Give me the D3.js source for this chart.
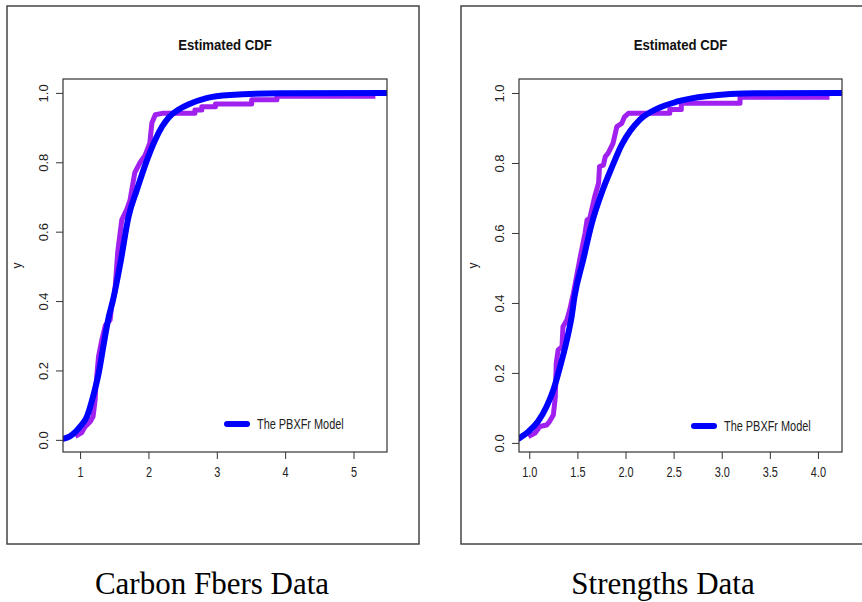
<!DOCTYPE html>
<html>
<head>
<meta charset="utf-8">
<script src="https://cdn.jsdelivr.net/npm/d3@7"></script>
<style>
  body { margin: 0; background: #fff; }
  svg { display: block; }
</style>
</head>
<body>
<div id="chart"></div>
<script>
// Data

// Carbon fibers: empirical CDF (purple) as [x, F(x)] corners
const carbonEcdf = [
  [0.93, 0.01], [1.02, 0.02], [1.07, 0.037], [1.15, 0.053], [1.19, 0.067],
  [1.22, 0.115], [1.23, 0.154], [1.27, 0.24], [1.32, 0.29], [1.37, 0.33],
  [1.44, 0.346], [1.46, 0.384], [1.51, 0.43], [1.55, 0.54], [1.61, 0.634],
  [1.68, 0.663], [1.73, 0.69], [1.80, 0.77], [1.88, 0.80], [1.95, 0.82],
  [2.02, 0.855], [2.05, 0.913], [2.10, 0.937], [2.20, 0.941], [2.68, 0.941],
  [2.68, 0.951], [2.78, 0.951], [2.78, 0.96], [2.98, 0.96], [2.98, 0.968],
  [3.51, 0.968], [3.51, 0.98], [3.88, 0.98], [3.88, 0.99], [5.32, 0.99]
];
// Carbon fibers: fitted PBXFr CDF (blue)
const carbonModel = [
  [0.75, 0.003], [0.85, 0.01], [1.0, 0.038], [1.10, 0.067], [1.19, 0.125],
  [1.27, 0.19], [1.34, 0.269], [1.41, 0.346], [1.49, 0.41], [1.59, 0.51],
  [1.71, 0.644], [1.83, 0.72], [1.98, 0.807], [2.10, 0.865], [2.20, 0.903],
  [2.30, 0.93], [2.45, 0.953], [2.60, 0.968], [2.85, 0.985], [3.20, 0.994],
  [3.93, 0.999], [5.49, 1.0]
];

// Strengths: empirical CDF (purple)
const strengthEcdf = [
  [0.99, 0.018], [1.06, 0.028], [1.11, 0.047], [1.18, 0.051], [1.21, 0.061],
  [1.25, 0.08], [1.27, 0.13], [1.28, 0.228], [1.30, 0.266], [1.34, 0.275],
  [1.35, 0.332], [1.39, 0.351], [1.42, 0.38], [1.46, 0.43], [1.53, 0.532],
  [1.58, 0.60], [1.60, 0.637], [1.63, 0.643], [1.68, 0.704], [1.72, 0.742],
  [1.73, 0.79], [1.77, 0.794], [1.79, 0.818], [1.82, 0.828], [1.87, 0.856],
  [1.91, 0.904], [1.96, 0.913], [1.99, 0.932], [2.03, 0.942], [2.46, 0.942],
  [2.46, 0.953], [2.58, 0.953], [2.58, 0.971], [3.19, 0.971], [3.19, 0.988],
  [4.12, 0.988]
];
// Strengths: fitted PBXFr CDF (blue)
const strengthModel = [
  [0.893, 0.013], [0.99, 0.032], [1.09, 0.061], [1.18, 0.104], [1.25, 0.151],
  [1.32, 0.218], [1.39, 0.294], [1.44, 0.361], [1.47, 0.418], [1.56, 0.523],
  [1.65, 0.628], [1.75, 0.713], [1.86, 0.789], [1.96, 0.852], [2.05, 0.892],
  [2.15, 0.924], [2.32, 0.954], [2.53, 0.975], [2.84, 0.991], [3.36, 0.999],
  [4.25, 1.0]
];

const yTicks = [0, 0.2, 0.4, 0.6, 0.8, 1.0];
const carbonXTicks = [1, 2, 3, 4, 5];
const strengthXTicks = [1.0, 1.5, 2.0, 2.5, 3.0, 3.5, 4.0];

const plotTitle = "Estimated CDF";
const legendLabel = "The PBXFr Model";
const captions = ["Carbon Fbers Data", "Strengths Data"];

// Layout
const width = 862;
const height = 602;

const panels = [
  {
    id: "carbon",
    frame: { x: 7, y: 6, w: 412, h: 538 },
    box: { left: 63, top: 79, right: 387, bottom: 452 },
    xDomain: [0.75, 5.49],
    yDomain: [-0.035, 1.04],
    xTicks: carbonXTicks,
    xFormat: d3.format("d"),
    ecdf: carbonEcdf,
    model: carbonModel,
    caption: captions[0],
    captionX: 212,
    yLabelX: 17,
    legend: { x: 227, y: 424 },
  },
  {
    id: "strength",
    frame: { x: 461, y: 6, w: 410, h: 538 },
    box: { left: 519, top: 79, right: 842, bottom: 452 },
    xDomain: [0.893, 4.25],
    yDomain: [-0.026, 1.04],
    xTicks: strengthXTicks,
    xFormat: d3.format(".1f"),
    ecdf: strengthEcdf,
    model: strengthModel,
    caption: captions[1],
    captionX: 663,
    yLabelX: 473,
    legend: { x: 694, y: 426 },
  },
];

const sans = "'Liberation Sans', Arial, sans-serif";
const serif = "'Liberation Serif', 'Times New Roman', serif";

const svg = d3
  .select("#chart")
  .append("svg")
  .attr("width", width)
  .attr("height", height)
  .attr("viewBox", `0 0 ${width} ${height}`);

panels.forEach((p) => {
  const b = p.box;
  const g = svg.append("g").attr("id", p.id);

  // outer frame around each figure
  g.append("rect")
    .attr("x", p.frame.x)
    .attr("y", p.frame.y)
    .attr("width", p.frame.w)
    .attr("height", p.frame.h)
    .attr("fill", "none")
    .attr("stroke", "#444")
    .attr("stroke-width", 1.5);

  // Scales
  const xScale = d3.scaleLinear().domain(p.xDomain).range([b.left, b.right]);
  const yScale = d3.scaleLinear().domain(p.yDomain).range([b.bottom, b.top]);

  // clip to plot region
  g.append("clipPath")
    .attr("id", `clip-${p.id}`)
    .append("rect")
    .attr("x", b.left)
    .attr("y", b.top)
    .attr("width", b.right - b.left)
    .attr("height", b.bottom - b.top);

  const line = d3
    .line()
    .x((d) => xScale(d[0]))
    .y((d) => yScale(d[1]));

  const lines = g.append("g").attr("clip-path", `url(#clip-${p.id})`);

  lines
    .append("path")
    .datum(p.ecdf)
    .attr("d", line)
    .attr("fill", "none")
    .attr("stroke", "#a020f0")
    .attr("stroke-width", 5)
    .attr("stroke-linejoin", "round");

  lines
    .append("path")
    .datum(p.model)
    .attr("d", line.curve(d3.curveMonotoneX))
    .attr("fill", "none")
    .attr("stroke", "#0000ff")
    .attr("stroke-width", 6)
    .attr("stroke-linejoin", "round")
    .attr("stroke-linecap", "round");

  // plot box
  g.append("rect")
    .attr("x", b.left)
    .attr("y", b.top)
    .attr("width", b.right - b.left)
    .attr("height", b.bottom - b.top)
    .attr("fill", "none")
    .attr("stroke", "#333")
    .attr("stroke-width", 1.2);

  // Axes
  const xAxis = d3
    .axisBottom(xScale)
    .tickValues(p.xTicks)
    .tickFormat(p.xFormat)
    .tickSize(7)
    .tickPadding(8);

  const xAxisGroup = g
    .append("g")
    .attr("transform", `translate(0, ${b.bottom})`)
    .call(xAxis);
  xAxisGroup.select(".domain").remove();
  xAxisGroup.selectAll("line").attr("stroke", "#333");
  // narrow the labels a bit like the original
  xAxisGroup
    .selectAll(".tick text")
    .attr("fill", "#222")
    .attr("transform", "scale(0.78,1)")
    .style("font-family", sans)
    .style("font-size", "14px");

  const yAxis = d3
    .axisLeft(yScale)
    .tickValues(yTicks)
    .tickFormat(d3.format(".1f"))
    .tickSize(7);

  const yAxisGroup = g
    .append("g")
    .attr("transform", `translate(${b.left}, 0)`)
    .call(yAxis);
  yAxisGroup.select(".domain").remove();
  yAxisGroup.selectAll("line").attr("stroke", "#333");
  yAxisGroup
    .selectAll("text")
    .attr("x", 0)
    .attr("y", 0)
    .attr("dy", "0.35em")
    .attr("text-anchor", "middle")
    .attr("transform", "translate(-20,0) rotate(-90)")
    .attr("fill", "#222")
    .style("font-family", sans)
    .style("font-size", "13px");

  // y axis title
  g.append("text")
    .attr("transform", `translate(${p.yLabelX}, ${(b.top + b.bottom) / 2}) rotate(-90)`)
    .attr("text-anchor", "middle")
    .attr("dy", "0.35em")
    .style("font-family", sans)
    .style("font-size", "12px")
    .attr("fill", "#222")
    .text("y");

  // plot title
  const cx = (b.left + b.right) / 2;
  g.append("text")
    .attr("transform", `translate(${cx}, 50) scale(0.88,1)`)
    .attr("text-anchor", "middle")
    .style("font-family", sans)
    .style("font-size", "15px")
    .style("font-weight", "bold")
    .attr("fill", "#111")
    .text(plotTitle);

  // legend
  g.append("line")
    .attr("x1", p.legend.x)
    .attr("x2", p.legend.x + 20)
    .attr("y1", p.legend.y)
    .attr("y2", p.legend.y)
    .attr("stroke", "#0000ff")
    .attr("stroke-width", 6)
    .attr("stroke-linecap", "round");

  g.append("text")
    .attr("transform", `translate(${p.legend.x + 30}, ${p.legend.y + 5}) scale(0.78,1)`)
    .style("font-family", sans)
    .style("font-size", "14px")
    .attr("fill", "#222")
    .text(legendLabel);

  // caption below frame
  g.append("text")
    .attr("x", p.captionX)
    .attr("y", 594)
    .attr("text-anchor", "middle")
    .style("font-family", serif)
    .style("font-size", "31px")
    .attr("fill", "#000")
    .text(p.caption);
});
</script>
</body>
</html>
